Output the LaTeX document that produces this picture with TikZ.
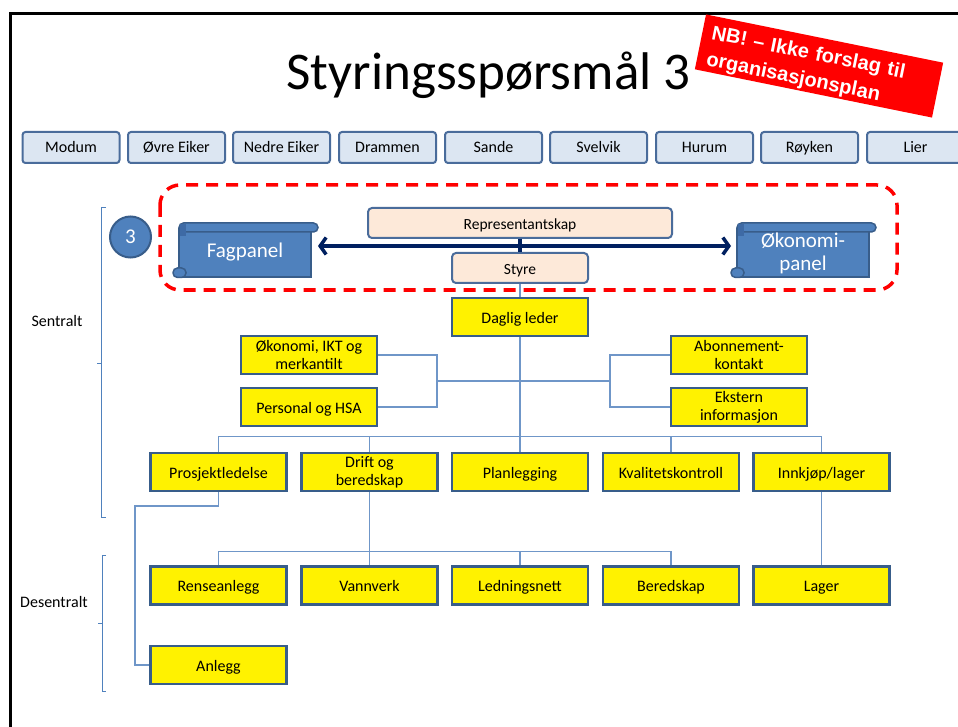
\documentclass[tikz,border=0pt]{standalone}
\usepackage{fontspec}
\setmainfont{Carlito}
\newfontfamily\badgefont{Liberation Sans}
\usetikzlibrary{arrows.meta}
\definecolor{munib}{HTML}{4A6C9B}
\definecolor{munif}{HTML}{DCE6F2}
\definecolor{peachf}{HTML}{FDE9D9}
\definecolor{ybord}{HTML}{385D8A}
\definecolor{connc}{HTML}{6F96C8}
\definecolor{navyc}{HTML}{002060}
\definecolor{scrollc}{HTML}{4F81BD}
\definecolor{scrolld}{HTML}{385D8A}
\definecolor{scrollk}{HTML}{3E6AA5}
\begin{document}
\begin{tikzpicture}[x=1pt,y=-1pt,
  muni/.style={draw=munib, fill=munif, line width=2pt, rounded corners=3pt, minimum width=97pt, minimum height=31pt, inner sep=0pt, text height=11.5pt, text depth=0.5pt, font=\fontsize{16}{19}\selectfont},
  peach/.style={draw=munib, fill=peachf, line width=2pt, rounded corners=4pt, minimum height=30pt, inner sep=0pt, text height=12.5pt, text depth=0pt, font=\fontsize{15.5}{19}\selectfont},
  ybox/.style={draw=ybord, fill=yellow, line width=2.5pt, minimum width=136pt, minimum height=38pt, inner sep=0pt, align=center, font=\fontsize{16}{18}\selectfont},
  yone/.style={ybox, text height=12pt, text depth=0pt},
  ytwo/.style={ybox},
  conn/.style={draw=connc, line width=1.2pt},
  scrollf/.style={fill=scrollc, draw=scrolld, line width=1.5pt},
  scrolltext/.style={text=white, align=center, inner sep=0pt, font=\fontsize{21}{23}\selectfont},
  lbl/.style={inner sep=0pt, font=\fontsize{16}{19}\selectfont},
  brk/.style={draw=scrollc, line width=1pt},
  badgebox/.style={fill=red, rotate=-11.5, minimum width=242pt, minimum height=56pt, inner sep=0pt},
  badgetext/.style={text=white, rotate=-11.5, text width=228pt, inner sep=0pt, align=left, font=\badgefont\bfseries\fontsize{20}{24}\selectfont}
]
\useasboundingbox (0,0) rectangle (958,727);
\fill[white] (0,0) rectangle (958,727);
% slide frame
\draw[line width=3pt] (10,727) -- (10,14) -- (958,14);
% title
\node[anchor=base, inner sep=0pt, font=\fontsize{53}{60}\selectfont] (title) at (488.5,90) {Styringsspørsmål 3};
% municipalities
\node[muni] (m1) at (71,147.5) {Modum};
\node[muni] (m2) at (176.5,147.5) {Øvre Eiker};
\node[muni] (m3) at (281.5,147.5) {Nedre Eiker};
\node[muni] (m4) at (387.5,147.5) {Drammen};
\node[muni] (m5) at (493.5,147.5) {Sande};
\node[muni] (m6) at (598.5,147.5) {Svelvik};
\node[muni] (m7) at (704.5,147.5) {Hurum};
\node[muni] (m8) at (809.5,147.5) {Røyken};
\node[muni] (m9) at (915.5,147.5) {Lier};
% badge
\node[badgebox] (nbbox) at (819,66) {};
\node[badgetext] (nb) at (821,70) {NB! – Ikke forslag til\\[3pt]organisasjonsplan};
% red dashed frame
\draw[red, line width=3.5pt, dash pattern=on 12pt off 8pt, rounded corners=20pt] (160,185) rectangle (897,290);
% circle 3
\node[circle, fill=scrollc, draw=scrolld, line width=2pt, minimum size=41pt, inner sep=0pt, text=white, font=\fontsize{21}{23}\selectfont] (c3) at (130.5,237) {3};
% Fagpanel scroll
\draw[scrollf] (179,229) rectangle (311,277);
\draw[scrollf, rounded corners=4.5pt] (173,268) rectangle (186,277.5);
\draw[scrollf, rounded corners=4.5pt] (179,223) rectangle (318,232);
\fill[scrollk] (180,224) rectangle (186,236);
\node[scrolltext] (fag) at (245,252) {Fagpanel};
% Okonomi-panel scroll
\draw[scrollf] (737,229) rectangle (869,277);
\draw[scrollf, rounded corners=4.5pt] (731,268) rectangle (744,277.5);
\draw[scrollf, rounded corners=4.5pt] (737,223) rectangle (876,232);
\fill[scrollk] (738,224) rectangle (744,236);
\node[scrolltext] (oko) at (803,253) {Økonomi-\\panel};
% governance
\node[peach, minimum width=304pt] (rep) at (520,223) {Representantskap};
\node[peach, minimum width=136pt] (sty) at (520,268) {Styre};
\draw[navyc, line width=4pt] (rep.south) -- (sty.north);
\coordinate (arL) at (318,246);
\coordinate (arR) at (731,246);
\draw[navyc, line width=3.5pt, {Straight Barb[length=6pt,width=17pt]}-{Straight Barb[length=6pt,width=17pt]}] (arL) -- (arR);
% yellow boxes
\node[yone] (dag) at (520,317) {Daglig leder};
\node[ytwo] (okt) at (309,355) {Økonomi, IKT og\\merkantilt};
\node[yone] (per) at (309,407) {Personal og HSA};
\node[ytwo] (abo) at (739,355) {Abonnement-\\kontakt};
\node[ytwo] (eks) at (739,407) {Ekstern\\informasjon};
\node[yone] (pro) at (218.5,472) {Prosjektledelse};
\node[ytwo] (dri) at (369.5,472) {Drift og\\beredskap};
\node[yone] (pla) at (520,472) {Planlegging};
\node[yone] (kva) at (671,472) {Kvalitetskontroll};
\node[yone] (inn) at (821.5,472) {Innkjøp/lager};
\node[yone] (ren) at (218.5,585.5) {Renseanlegg};
\node[yone] (van) at (369.5,585.5) {Vannverk};
\node[yone] (led) at (520,585.5) {Ledningsnett};
\node[yone] (ber) at (671,585.5) {Beredskap};
\node[yone] (lag) at (821.5,585.5) {Lager};
\node[yone] (anl) at (218.5,665) {Anlegg};
% connectors
\draw[conn] (sty.south) -- (dag.north);
\draw[conn] (dag.south) -- (pla.north);
\coordinate (jl) at (437,381);
\coordinate (jr) at (610,381);
\draw[conn] (okt.east) -| (jl) |- (per.east);
\draw[conn] (jl) -- (jr);
\draw[conn] (abo.west) -| (jr) |- (eks.west);
\draw[conn] (pro.north) -- ++(0,-15) -| (inn.north);
\draw[conn] (dri.north) -- ++(0,-15);
\draw[conn] (kva.north) -- ++(0,-15);
\coordinate (ak) at (135,506);
\draw[conn] (pro.south) |- (ak) |- (anl.west);
\draw[conn] (dri.south) -- (van.north);
\draw[conn] (ren.north) -- ++(0,-14) -| (ber.north);
\draw[conn] (led.north) -- ++(0,-14);
\draw[conn] (inn.south) -- (lag.north);
% side labels and brackets
\node[lbl] (sen) at (57,321) {Sentralt};
\node[lbl] (des) at (54,602) {Desentralt};
\draw[brk] (106,208) -- (101,208) -- (101,517) -- (106,517);
\draw[brk] (101,363) -- (97,363);
\draw[brk] (106,555) -- (102,555) -- (102,691) -- (106,691);
\draw[brk] (102,623) -- (98,623);
\end{tikzpicture}
\end{document}
